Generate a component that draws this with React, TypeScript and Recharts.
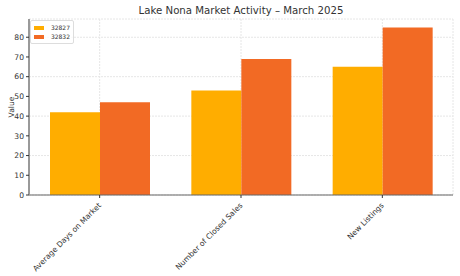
import React from 'react';
import { Bar, BarChart, CartesianGrid, XAxis, YAxis } from 'recharts';

const categories = ['Average Days on Market', 'Number of Closed Sales', 'New Listings'];
const zip32827 = [42, 53, 65];
const zip32832 = [47, 69, 85];
const yTicks = [0, 10, 20, 30, 40, 50, 60, 70, 80];

const seriesColors = { z32827: '#FFAD00', z32832: '#F26A24' };
const font = '"DejaVu Sans", sans-serif';

const data = categories.map((name, i) => ({
  name,
  z32827: zip32827[i],
  z32832: zip32832[i],
}));

const XTick = ({ x, y, payload }: any) => (
  <text
    x={x + 2}
    y={y + 6}
    transform={`rotate(-45 ${x + 2} ${y + 6})`}
    textAnchor="end"
    fontSize={7.6}
    fill="#333"
    fontFamily={font}
  >
    {payload.value}
  </text>
);

const LegendBox = () => (
  <div
    style={{
      position: 'absolute',
      left: 30,
      top: 20,
      width: 36,
      border: '1px solid #ddd',
      borderRadius: 2,
      background: 'rgba(255,255,255,0.8)',
      padding: '3px 3px 2px 3px',
      fontFamily: font,
      fontSize: 6,
      color: '#333',
      lineHeight: '8.5px',
      zIndex: 2,
    }}
  >
    {[
      { label: '32827', color: seriesColors.z32827 },
      { label: '32832', color: seriesColors.z32832 },
    ].map((it) => (
      <div key={it.label} style={{ display: 'flex', alignItems: 'center' }}>
        <span style={{ display: 'inline-block', width: 11, height: 4, background: it.color, marginRight: 7 }} />
        {it.label}
      </div>
    ))}
  </div>
);

export default function App() {
  return (
    <div style={{ position: 'absolute', left: 0, top: 0, width: 460, height: 276, background: '#fff' }}>
      <div
        style={{
          position: 'absolute',
          left: 29,
          width: 424,
          top: 5,
          textAlign: 'center',
          fontFamily: font,
          fontSize: 10.2,
          color: '#333',
        }}
      >
        Lake Nona Market Activity – March 2025
      </div>
      <div
        style={{
          position: 'absolute',
          left: 11,
          top: 107,
          transform: 'translate(-50%, -50%) rotate(-90deg)',
          fontFamily: font,
          fontSize: 7.6,
          color: '#333',
        }}
      >
        Value
      </div>
      <LegendBox />
      <BarChart
        width={460}
        height={276}
        data={data}
        margin={{ top: 19, right: 7, left: 0, bottom: 0 }}
        barSize={50}
        barGap={0}
      >
        <CartesianGrid stroke="#e6e6e6" strokeDasharray="2 1" />
        <XAxis
          dataKey="name"
          height={81}
          tick={<XTick />}
          tickLine={{ stroke: '#333' }}
          tickSize={3}
          axisLine={{ stroke: '#666', strokeWidth: 1.2 }}
          interval={0}
        />
        <YAxis
          width={29}
          domain={[0, 89.25]}
          ticks={yTicks}
          tick={{ fontSize: 7.6, fill: '#333', fontFamily: font }}
          tickLine={{ stroke: '#333' }}
          tickSize={3}
          axisLine={{ stroke: '#999', strokeWidth: 2 }}
        />
        <Bar dataKey="z32827" name="32827" fill={seriesColors.z32827} isAnimationActive={false} />
        <Bar dataKey="z32832" name="32832" fill={seriesColors.z32832} isAnimationActive={false} />
      </BarChart>
    </div>
  );
}
